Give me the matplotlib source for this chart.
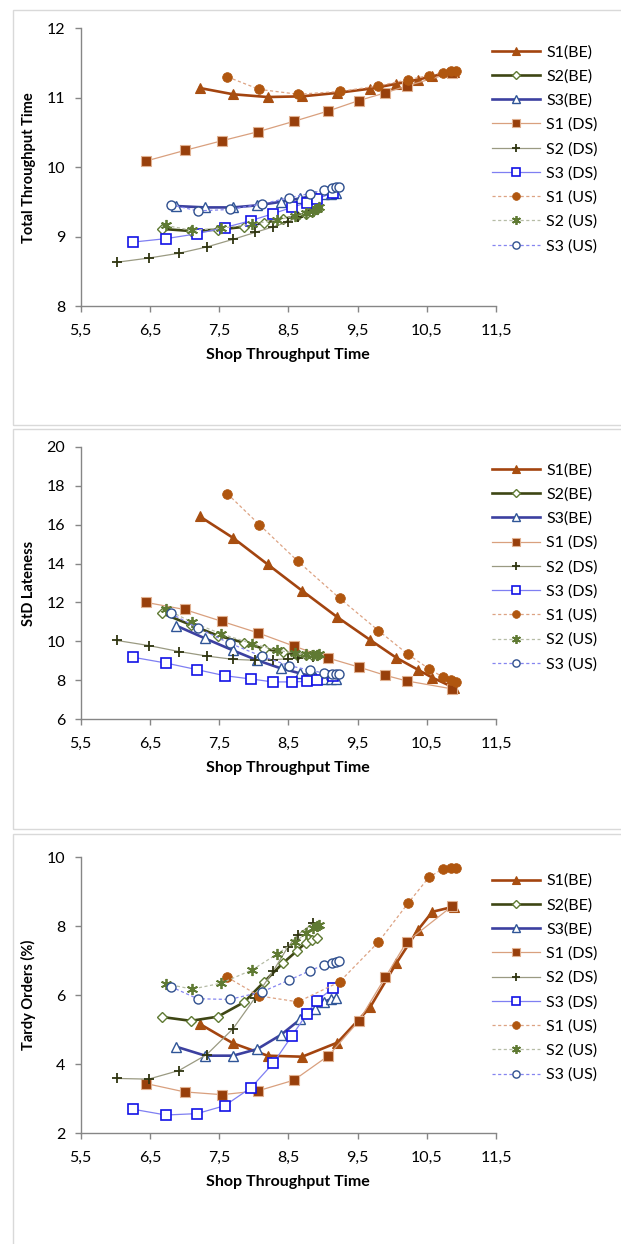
import matplotlib
matplotlib.use("Agg")
import matplotlib.pyplot as plt
from matplotlib.patches import Rectangle
from matplotlib.ticker import FixedLocator, FuncFormatter

plt.rcParams['font.family'] = ['Lato', 'DejaVu Sans']

labels = ["S1(BE)", "S2(BE)", "S3(BE)", "S1 (DS)", "S2 (DS)", "S3 (DS)", "S1 (US)", "S2 (US)", "S3 (US)"]

# Shop throughput time (x) per series
x_s1_be = [7.22, 7.70, 8.20, 8.70, 9.21, 9.68, 10.06, 10.37, 10.58, 10.89]
x_s2_be = [6.68, 7.09, 7.48, 7.86, 8.15, 8.42, 8.62, 8.75, 8.84, 8.91]
x_s3_be = [6.88, 7.30, 7.70, 8.05, 8.39, 8.67, 8.88, 9.02, 9.11, 9.19]
x_s1_ds = [6.45, 7.00, 7.54, 8.06, 8.58, 9.08, 9.52, 9.90, 10.21, 10.87]
x_s2_ds = [6.02, 6.48, 6.92, 7.32, 7.70, 8.02, 8.28, 8.49, 8.64, 8.86]
x_s3_ds = [6.25, 6.73, 7.18, 7.58, 7.96, 8.28, 8.55, 8.77, 8.91, 9.14]
x_s1_us = [7.62, 8.08, 8.64, 9.24, 9.80, 10.23, 10.53, 10.73, 10.85, 10.92]
x_s2_us = [6.73, 7.11, 7.53, 7.98, 8.34, 8.60, 8.76, 8.85, 8.91, 8.95]
x_s3_us = [6.80, 7.19, 7.65, 8.12, 8.51, 8.81, 9.01, 9.13, 9.19, 9.23]

# Panel 1: Total Throughput Time
ttt_s1_be = [11.14, 11.05, 11.01, 11.02, 11.07, 11.13, 11.20, 11.26, 11.31, 11.37]
ttt_s2_be = [9.11, 9.08, 9.10, 9.14, 9.20, 9.25, 9.30, 9.33, 9.36, 9.40]
ttt_s3_be = [9.44, 9.42, 9.42, 9.45, 9.50, 9.55, 9.59, 9.61, 9.62, 9.63]
ttt_s1_ds = [10.09, 10.24, 10.38, 10.51, 10.66, 10.81, 10.96, 11.07, 11.17, 11.36]
ttt_s2_ds = [8.63, 8.69, 8.76, 8.85, 8.96, 9.06, 9.14, 9.21, 9.28, 9.37]
ttt_s3_ds = [8.92, 8.97, 9.04, 9.13, 9.23, 9.33, 9.42, 9.49, 9.54, 9.63]
ttt_s1_us = [11.30, 11.12, 11.05, 11.09, 11.17, 11.26, 11.32, 11.36, 11.38, 11.39]
ttt_s2_us = [9.16, 9.09, 9.12, 9.18, 9.24, 9.30, 9.34, 9.37, 9.40, 9.42]
ttt_s3_us = [9.46, 9.37, 9.39, 9.47, 9.56, 9.62, 9.67, 9.70, 9.71, 9.72]

# Panel 2: StD Lateness
sdl_s1_be = [16.42, 15.32, 13.96, 12.60, 11.24, 10.08, 9.16, 8.55, 8.14, 7.63]
sdl_s2_be = [11.44, 10.85, 10.30, 9.93, 9.62, 9.45, 9.32, 9.28, 9.30, 9.32]
sdl_s3_be = [10.81, 10.15, 9.54, 9.03, 8.62, 8.36, 8.17, 8.09, 8.09, 8.09]
sdl_s1_ds = [12.00, 11.64, 11.03, 10.44, 9.76, 9.14, 8.68, 8.26, 7.97, 7.56]
sdl_s2_ds = [10.05, 9.79, 9.48, 9.25, 9.08, 9.03, 9.06, 9.11, 9.16, 9.22]
sdl_s3_ds = [9.19, 8.89, 8.55, 8.24, 8.07, 7.92, 7.92, 7.95, 8.00, 8.21]
sdl_s1_us = [17.58, 16.00, 14.11, 12.22, 10.56, 9.33, 8.60, 8.17, 8.00, 7.92]
sdl_s2_us = [11.66, 10.98, 10.39, 9.88, 9.54, 9.40, 9.33, 9.30, 9.32, 9.35]
sdl_s3_us = [11.44, 10.69, 9.91, 9.23, 8.76, 8.52, 8.38, 8.35, 8.35, 8.35]

# Panel 3: Tardy Orders (%)
tdy_s1_be = [5.17, 4.61, 4.25, 4.22, 4.63, 5.65, 6.93, 7.89, 8.42, 8.57]
tdy_s2_be = [5.37, 5.26, 5.38, 5.80, 6.39, 6.93, 7.28, 7.52, 7.60, 7.65]
tdy_s3_be = [4.51, 4.25, 4.25, 4.44, 4.85, 5.30, 5.60, 5.81, 5.89, 5.93]
tdy_s1_ds = [3.44, 3.20, 3.12, 3.23, 3.54, 4.25, 5.26, 6.52, 7.55, 8.59]
tdy_s2_ds = [3.59, 3.57, 3.82, 4.28, 5.03, 5.93, 6.70, 7.39, 7.76, 8.09]
tdy_s3_ds = [2.70, 2.53, 2.57, 2.80, 3.32, 4.03, 4.82, 5.47, 5.84, 6.20]
tdy_s1_us = [6.52, 5.98, 5.81, 6.39, 7.54, 8.67, 9.42, 9.66, 9.68, 9.70]
tdy_s2_us = [6.33, 6.18, 6.35, 6.74, 7.20, 7.55, 7.80, 7.95, 8.02, 8.05]
tdy_s3_us = [6.25, 5.90, 5.88, 6.10, 6.44, 6.71, 6.88, 6.95, 6.97, 7.00]

x_ticks = [5.5, 6.5, 7.5, 8.5, 9.5, 10.5, 11.5]

xs = [x_s1_be, x_s2_be, x_s3_be, x_s1_ds, x_s2_ds, x_s3_ds, x_s1_us, x_s2_us, x_s3_us]
panels = [
    ("Total Throughput Time", [ttt_s1_be, ttt_s2_be, ttt_s3_be, ttt_s1_ds, ttt_s2_ds, ttt_s3_ds, ttt_s1_us, ttt_s2_us, ttt_s3_us], (8, 12), [8, 9, 10, 11, 12]),
    ("StD Lateness", [sdl_s1_be, sdl_s2_be, sdl_s3_be, sdl_s1_ds, sdl_s2_ds, sdl_s3_ds, sdl_s1_us, sdl_s2_us, sdl_s3_us], (6, 20), [6, 8, 10, 12, 14, 16, 18, 20]),
    ("Tardy Orders (%)", [tdy_s1_be, tdy_s2_be, tdy_s3_be, tdy_s1_ds, tdy_s2_ds, tdy_s3_ds, tdy_s1_us, tdy_s2_us, tdy_s3_us], (2, 10), [2, 4, 6, 8, 10]),
]

styles = [
    dict(color='#A3440F', lw=1.9, ls='-', marker='^', ms=7, mfc='#A84E10', mec='#A84E10', mew=0.8),
    dict(color='#3E4614', lw=1.9, ls='-', marker='D', ms=5.5, mfc='white', mec='#5F7A33', mew=1.0),
    dict(color='#3C40A0', lw=1.9, ls='-', marker='^', ms=7, mfc='white', mec='#2F5597', mew=1.0),
    dict(color='#D9A07E', lw=0.9, ls='-', marker='s', ms=7, mfc='#983F0B', mec='#E0B090', mew=0.8),
    dict(color='#9A9A82', lw=0.9, ls='-', marker='+', ms=7, mfc='#2F3510', mec='#2F3510', mew=1.3),
    dict(color='#7F7FF2', lw=0.9, ls='-', marker='s', ms=6.5, mfc='white', mec='#1212E6', mew=1.2),
    dict(color='#DDA383', lw=0.9, ls=(0, (2.5, 2)), marker='o', ms=7, mfc='#B0560F', mec='#B0560F', mew=0.5),
    dict(color='#B6BCA6', lw=0.9, ls=(0, (2.5, 2)), marker=(6, 2, 0), ms=8, mfc='#5F7A33', mec='#5F7A33', mew=1.3),
    dict(color='#8585F0', lw=0.9, ls=(0, (2.5, 2)), marker='o', ms=6.5, mfc='white', mec='#30508F', mew=1.0),
]

W, H = 621, 1244
fig = plt.figure(figsize=(W / 100, H / 100), dpi=100)

# panel frames (pixels: top, bottom)
frames = [(10, 425), (429, 829), (834, 1250)]
for top, bot in frames:
    fig.patches.append(Rectangle((12.5 / W, 1 - bot / H), (W + 10) / W, (bot - top) / H,
                                 transform=fig.transFigure, fill=False, ec='#D9D9D9', lw=1.0))

ax_px = [(28.3, 306.0), (446.7, 719.3), (857.3, 1133.3)]
left_px, right_px = 80.7, 496.0

for (ylabel, ys, ylim, yticks), (top, bot) in zip(panels, ax_px):
    ax = fig.add_axes([left_px / W, 1 - bot / H, (right_px - left_px) / W, (bot - top) / H])
    handles = []
    for x, y, st, lab in zip(xs, ys, styles, labels):
        h, = ax.plot(x, y, label=lab, clip_on=False, **st)
        handles.append(h)
    ax.set_xlim(5.5, 11.5)
    ax.set_ylim(*ylim)
    ax.xaxis.set_major_locator(FixedLocator(x_ticks))
    ax.yaxis.set_major_locator(FixedLocator(yticks))
    ax.xaxis.set_major_formatter(FuncFormatter(lambda v, p: f"{v:.1f}".replace('.', ',')))
    ax.yaxis.set_major_formatter(FuncFormatter(lambda v, p: f"{int(round(v))}"))
    for s in ['top', 'right']:
        ax.spines[s].set_visible(False)
    for s in ['left', 'bottom']:
        ax.spines[s].set_color('#868686')
        ax.spines[s].set_linewidth(1.0)
    ax.tick_params(axis='both', direction='out', length=4, width=1.0, color='#868686',
                   labelsize=11.5, labelcolor='#000000')
    ax.tick_params(axis='x', pad=9)
    ax.tick_params(axis='y', pad=7)
    ax.set_xlabel("Shop Throughput Time", fontsize=11.5, fontweight='bold', labelpad=7)
    ax.set_ylabel(ylabel, fontsize=10.5, fontweight='bold', labelpad=8)
    ax.legend(handles=handles, loc='upper left', bbox_to_anchor=(0.99, 0.94), frameon=False,
              fontsize=11.5, handlelength=3.0, handletextpad=0.4, labelspacing=0.62,
              borderpad=0, borderaxespad=0, markerscale=0.8)

fig.savefig("out.png", dpi=100)
